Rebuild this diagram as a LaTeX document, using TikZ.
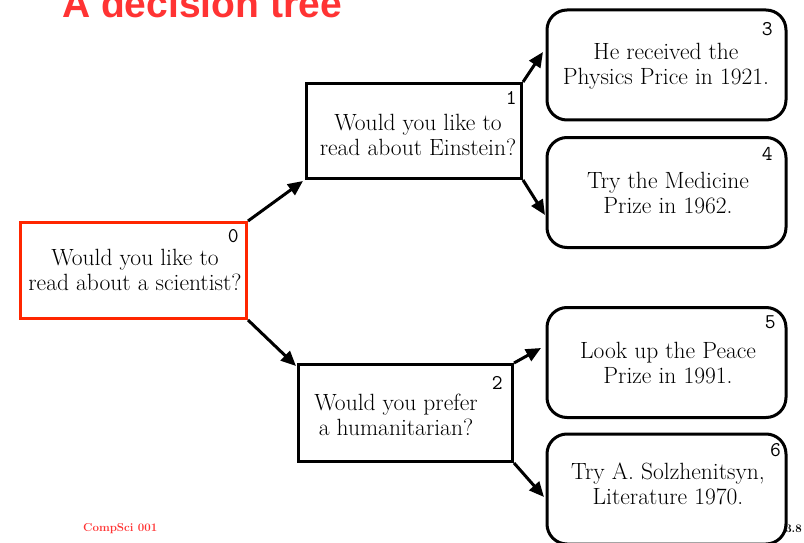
\documentclass[tikz,border=0pt]{standalone}
\usepackage{fontspec}
\newfontfamily\titlefont{Liberation Sans}
\usetikzlibrary{arrows.meta,calc}
\definecolor{titlered}{RGB}{255,51,51}
\definecolor{boxred}{RGB}{255,38,0}
\begin{document}
\begin{tikzpicture}[x=1pt,y=-1pt,
  sqbox/.style={draw=black,line width=3pt,rectangle,inner sep=0pt},
  rbox/.style={draw=black,line width=3pt,rectangle,rounded corners=20pt,inner sep=0pt,minimum width=239pt,minimum height=110pt},
  boxtext/.style={align=center,inner sep=0pt,font=\fontsize{23.5}{25.5}\selectfont},
  num/.style={inner sep=0pt,font=\ttfamily\fontsize{21}{21}\selectfont},
  conn/.style={line width=3pt,-{Triangle[length=15pt,width=13pt]}}
]
\useasboundingbox (0,0) rectangle (804,543);
% title and footer
\node[anchor=base west,inner sep=0pt,text=titlered,font=\titlefont\bfseries\fontsize{39}{39}\selectfont] (title) at (62,18) {A decision tree};
\node[anchor=base west,inner sep=0pt,text=titlered,font=\bfseries\fontsize{11.5}{11.5}\selectfont] (foot) at (83,531) {CompSci 001};
\node[anchor=base east,inner sep=0pt,font=\bfseries\fontsize{11.5}{11.5}\selectfont] (page) at (802,532) {3.8};
% boxes
\node[sqbox,draw=boxred,minimum width=226pt,minimum height=96pt] (n0) at (133.5,270.5) {};
\node[sqbox,minimum width=215pt,minimum height=95pt] (n1) at (414,131) {};
\node[sqbox,minimum width=214pt,minimum height=97pt] (n2) at (405.5,413) {};
\node[rbox] (n3) at (666.5,65) {};
\node[rbox] (n4) at (666.5,192.5) {};
\node[rbox] (n5) at (666.5,362.5) {};
\node[rbox] (n6) at (666.5,489) {};
% texts
\node[boxtext] (t0) at (135,270) {Would you like to\\read about a scientist?};
\node[boxtext] (t1) at (418,135) {Would you like to\\read about Einstein?};
\node[boxtext] (t2) at (396,415) {Would you prefer\\a humanitarian?};
\node[boxtext] (t3) at (666,66) {He received the\\Physics Price in 1921.};
\node[boxtext] (t4) at (668,193) {Try the Medicine\\Prize in 1962.};
\node[boxtext] (t5) at (668,363) {Look up the Peace\\Prize in 1991.};
\node[boxtext] (t6) at (668,484) {Try A. Solzhenitsyn,\\Literature 1970.};
% numbers
\node[num,anchor=north east] (l0) at (239,229) {0};
\node[num,anchor=north east] (l1) at (517,91) {1};
\node[num,anchor=north east] (l2) at (503,376) {2};
\node[num,anchor=north east] (l3) at (773,22) {3};
\node[num,anchor=north east] (l4) at (773,147) {4};
\node[num,anchor=north east] (l5) at (776,315) {5};
\node[num,anchor=north east] (l6) at (781,443) {6};
% arrow tips
\coordinate (a1) at (303,181);
\coordinate (a2) at (296,366);
\coordinate (a3) at (543,52);
\coordinate (a4) at (545,215);
\coordinate (a5) at (541,348);
\coordinate (a6) at (544,497);
% connectors
\draw[conn] (n0.north east) -- (a1);
\draw[conn] (n0.south east) -- (a2);
\draw[conn] (n1.north east) -- (a3);
\draw[conn] (n1.south east) -- (a4);
\draw[conn] (n2.north east) -- (a5);
\draw[conn] (n2.south east) -- (a6);
\end{tikzpicture}
\end{document}
